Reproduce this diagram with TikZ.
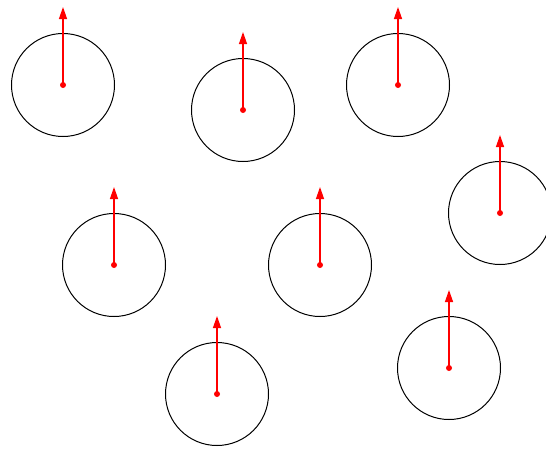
\documentclass[tikz,border=0pt]{standalone}
\usetikzlibrary{positioning,arrows.meta}
\tikzset{
  ringnode/.style={draw, circle, line width=1pt, minimum size=103pt, inner sep=0pt},
  centerdot/.style={circle, fill=red, minimum size=6pt, inner sep=0pt},
  spinarrow/.style={-{Triangle[length=12pt, width=8pt]}, red, line width=1.3pt, shorten <=-2pt}
}
\begin{document}
\begin{tikzpicture}[x=1pt, y=-1pt]
  \useasboundingbox (0,0) rectangle (546,455);
  \foreach \px/\py [count=\i] in {63/85, 243/110, 398/85, 500/213, 114/265, 320/265, 217/394, 449/368} {
    \node[ringnode] (ring\i) at (\px,\py) {};
    \node[centerdot] (c\i) at (\px,\py) {};
    \coordinate (tip\i) at (\px,\py-78);
    \draw[spinarrow] (c\i.center) -- (tip\i);
  }
\end{tikzpicture}
\end{document}
